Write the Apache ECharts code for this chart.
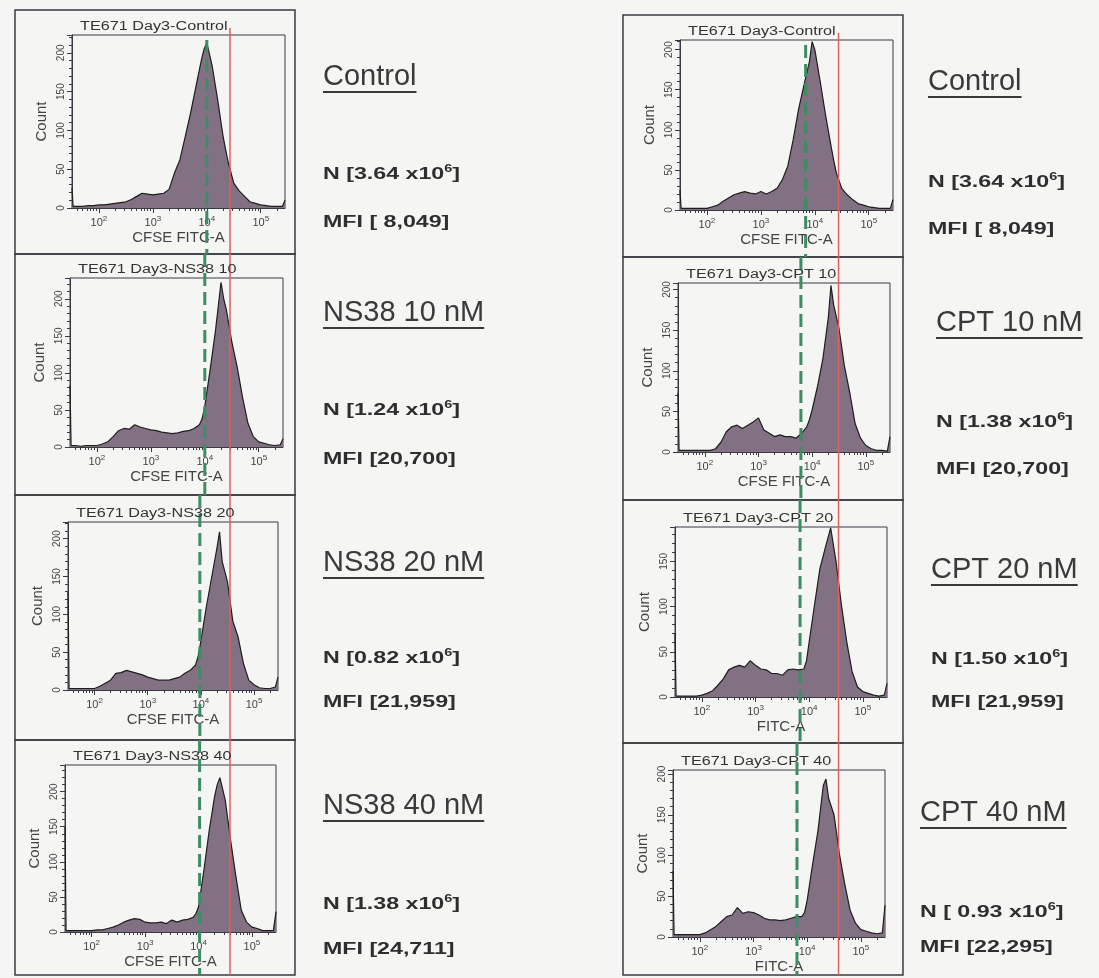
<!DOCTYPE html>
<html>
<head>
<meta charset="utf-8">
<title>TE671 Day3 CFSE</title>
<script src="https://cdn.jsdelivr.net/npm/echarts@6/dist/echarts.min.js"></script>
<style>
html, body { margin: 0; padding: 0; background: #f5f5f3; }
#main { width: 1099px; height: 978px; }
</style>
</head>
<body>
<div id="main"></div>
<script>
// histogram bins, log10 of the CFSE / FITC intensity
var binLog = [1.5, 1.52, 1.6, 1.7, 1.8, 1.9, 2.0, 2.1, 2.2, 2.3, 2.4, 2.5, 2.6, 2.7, 2.8, 2.9, 3.0, 3.1, 3.2, 3.3,
    3.4, 3.5, 3.6, 3.7, 3.8, 3.9, 3.95, 4.0, 4.1, 4.2, 4.3, 4.35, 4.4, 4.5, 4.6, 4.7, 4.8, 4.9, 5.0, 5.1,
    5.2, 5.3, 5.4, 5.43, 5.45];

// counts
var countsControlLeft = [26, 2, 2, 2, 3, 3, 4, 4, 5, 6, 7, 8, 11, 15, 19, 18, 17, 18, 19, 24, 45, 62, 92, 123, 157, 191, 205, 213, 183, 140, 93, 75, 58, 32, 22, 15, 8, 6, 4, 3, 2, 2, 2, 2, 10];
var countsNs38_10 = [83, 2, 2, 1, 2, 2, 2, 4, 7, 14, 22, 25, 24, 30, 27, 25, 23, 22, 20, 19, 18, 19, 21, 22, 25, 30, 38, 55, 105, 158, 222, 200, 185, 142, 108, 67, 32, 14, 7, 5, 3, 2, 3, 3, 11];
var countsNs38_20 = [130, 2, 2, 2, 2, 2, 2, 5, 9, 13, 22, 23, 26, 24, 22, 20, 17, 15, 13, 13, 13, 15, 17, 22, 26, 33, 45, 65, 109, 148, 187, 209, 170, 143, 91, 70, 35, 13, 7, 3, 2, 2, 4, 4, 17];
var countsNs38_40 = [150, 2, 2, 2, 2, 2, 2, 3, 3, 5, 7, 10, 14, 17, 19, 18, 14, 13, 13, 14, 12, 17, 14, 17, 18, 21, 26, 36, 88, 145, 193, 210, 220, 188, 131, 79, 31, 14, 7, 5, 2, 2, 2, 2, 29];
var countsControlRight = [25, 2, 2, 2, 2, 2, 2, 4, 6, 11, 15, 19, 21, 23, 21, 20, 23, 20, 23, 27, 38, 55, 88, 126, 156, 185, 210, 200, 160, 118, 80, 62, 46, 27, 19, 13, 8, 6, 4, 3, 2, 2, 2, 2, 13];
var countsCpt10 = [73, 2, 2, 2, 2, 2, 2, 2, 4, 12, 25, 31, 33, 29, 33, 37, 42, 27, 23, 19, 21, 19, 19, 17, 23, 31, 40, 52, 81, 115, 165, 205, 181, 152, 106, 73, 35, 17, 8, 4, 2, 2, 1, 1, 19];
var countsCpt20 = [70, 1, 1, 1, 1, 1, 2, 4, 7, 13, 20, 30, 33, 35, 33, 40, 35, 31, 30, 26, 26, 24, 30, 31, 30, 31, 40, 61, 102, 142, 165, 176, 187, 150, 102, 61, 28, 11, 6, 4, 2, 1, 2, 2, 15];
var countsCpt40 = [81, 3, 3, 3, 3, 3, 3, 5, 9, 13, 19, 25, 27, 36, 29, 31, 30, 27, 23, 21, 21, 20, 21, 23, 25, 25, 30, 45, 89, 130, 186, 194, 170, 150, 102, 65, 33, 17, 9, 7, 5, 4, 5, 5, 39];

var panelTitles = ["TE671 Day3-Control", "TE671 Day3-NS38 10", "TE671 Day3-NS38 20", "TE671 Day3-NS38 40",
    "TE671 Day3-Control", "TE671 Day3-CPT 10", "TE671 Day3-CPT 20", "TE671 Day3-CPT 40"];
var xAxisNames = ["CFSE FITC-A", "CFSE FITC-A", "CFSE FITC-A", "CFSE FITC-A",
    "CFSE FITC-A", "CFSE FITC-A", "FITC-A", "FITC-A"];
var yMaxes = [223, 228, 222, 238, 212, 208, 188, 205];

var conditionNames = ["Control", "NS38 10 nM", "NS38 20 nM", "NS38 40 nM",
    "Control", "CPT 10 nM", "CPT 20 nM", "CPT 40 nM"];
var nValues = ["3.64", "1.24", "0.82", "1.38", "3.64", "1.38", "1.50", " 0.93"];
var mfiValues = [" 8,049", "20,700", "21,959", "24,711", " 8,049", "20,700", "21,959", "22,295"];

// gates, log10 units
var greenGates = [4.0, 4.0, 3.98, 4.02, 3.83, 3.79, 3.83, 3.81];
var redGates = [4.43, 4.44];

var xMin = 1.5, xMax = 5.45;
var xTickLabels = [2, 3, 4, 5];
var minorMultipliers = [2, 3, 4, 5, 6, 7, 8, 9];

var histograms = [countsControlLeft, countsNs38_10, countsNs38_20, countsNs38_40,
    countsControlRight, countsCpt10, countsCpt20, countsCpt40];

// layout: plot frames [left, top, width, height]
var gridLayout = [
    [72, 35, 213, 173], [70, 278, 213, 169], [68, 522, 210, 168], [65, 765, 211, 167],
    [680, 40, 213, 170], [678, 283, 212, 169], [675, 527, 212, 170], [673, 770, 212, 167]
];
// outer panel boxes [x, y, w, h]
var panelBoxes = [
    [15, 10, 280, 244], [15, 254, 280, 241], [15, 495, 280, 245], [15, 740, 280, 235],
    [623, 15, 280, 242], [623, 257, 280, 243], [623, 500, 280, 243], [623, 743, 280, 232]
];
// text blocks [condX, condY, nX, nY, mfiY]
var labelLayout = [
    [323, 77, 323, 175, 223], [323, 313, 323, 411, 460], [323, 563, 323, 659, 703], [323, 806, 323, 905, 950],
    [928, 82, 928, 183, 230], [936, 323, 936, 423, 470], [931, 570, 931, 660, 703], [920, 813, 920, 913, 948]
];

var frameColor = "#3a3a44";
var textColor = "#3a3a3a";

function minorTickValues() {
    var vals = [];
    for (var p = 1; p <= 5; p++) {
        for (var k = 0; k < minorMultipliers.length; k++) {
            var v = Math.log10(minorMultipliers[k] * Math.pow(10, p));
            if (v > xMin && v < xMax) vals.push(v);
        }
    }
    return vals;
}

function buildOption() {
    var option = {
        backgroundColor: "#f5f5f3",
        animation: false,
        textStyle: {fontFamily: "Liberation Sans"},
        grid: [], xAxis: [], yAxis: [], series: []
    };
    var minors = minorTickValues();
    for (var i = 0; i < 8; i++) {
        var g = gridLayout[i];
        option.grid.push({
            left: g[0], top: g[1], width: g[2], height: g[3],
            show: true, borderColor: frameColor, borderWidth: 1, backgroundColor: "transparent"
        });
        option.xAxis.push({
            type: "value", gridIndex: i, min: xMin, max: xMax, position: "bottom",
            name: xAxisNames[i], nameLocation: "middle", nameGap: 22,
            nameTextStyle: {fontSize: 15, color: "#444"},
            axisLine: {show: true, onZero: false, lineStyle: {color: frameColor, width: 1}},
            axisTick: {show: true, customValues: xTickLabels, length: 5, lineStyle: {color: frameColor}},
            axisLabel: {
                customValues: xTickLabels, margin: 7, color: "#444",
                formatter: function (v) { return "{b|10}{s|" + v + "}"; },
                rich: {
                    b: {fontSize: 11, lineHeight: 15, color: "#444"},
                    s: {fontSize: 8, lineHeight: 9, verticalAlign: "top", color: "#444"}
                }
            },
            splitLine: {show: false}
        });
        option.xAxis.push({
            type: "value", gridIndex: i, min: xMin, max: xMax, position: "bottom",
            axisLine: {show: false},
            axisTick: {show: true, customValues: minors, length: 3, lineStyle: {color: frameColor}},
            axisLabel: {show: false},
            splitLine: {show: false}
        });
        option.yAxis.push({
            type: "value", gridIndex: i, min: 0, max: yMaxes[i], interval: 50,
            name: "Count", nameLocation: "middle", nameGap: 23,
            nameTextStyle: {fontSize: 15, color: "#444"},
            axisLine: {show: true, lineStyle: {color: frameColor, width: 1}},
            axisTick: {show: true, length: 5, lineStyle: {color: frameColor}},
            minorTick: {show: true, splitNumber: 5, length: 3, lineStyle: {color: frameColor}},
            axisLabel: {rotate: 90, fontSize: 10, color: "#444", margin: 6, showMaxLabel: false},
            splitLine: {show: false}
        });
        var counts = histograms[i];
        option.series.push({
            type: "line",
            xAxisIndex: 2 * i,
            yAxisIndex: i,
            data: binLog.map(function (x, k) { return [x, counts[k]]; }),
            symbol: "none",
            silent: true,
            lineStyle: {color: "#1e1e1e", width: 1.2},
            areaStyle: {color: "#817183", opacity: 1}
        });
    }
    return option;
}

var measureCtx = document.createElement("canvas").getContext("2d");
function textWidth(str, font) {
    measureCtx.font = font;
    return measureCtx.measureText(str).width;
}

function buildGraphics(chart) {
    var els = [];
    var i;
    for (i = 0; i < 8; i++) {
        var b = panelBoxes[i];
        els.push({
            type: "rect", z: 1, silent: true,
            shape: {x: b[0], y: b[1], width: b[2], height: b[3]},
            style: {fill: "none", stroke: frameColor, lineWidth: 1.5}
        });
        var g = gridLayout[i];
        els.push({
            type: "text", z: 30, silent: true,
            x: g[0] + 8, y: g[1] - 8, scaleX: 1.35,
            style: {text: panelTitles[i], font: '12px "Liberation Sans"', fill: "#333", verticalAlign: "middle"}
        });

        // green dashed gate
        var gx = chart.convertToPixel({xAxisIndex: 2 * i}, greenGates[i]);
        var y1 = (i % 4 === 0) ? g[1] + 5 : b[1];
        els.push({
            type: "line", z: 20, silent: true,
            shape: {x1: gx, y1: y1, x2: gx, y2: b[1] + b[3]},
            style: {stroke: "#3e8c63", lineWidth: 3, lineDash: [13, 6]}
        });

        // condition label, underlined
        var L = labelLayout[i];
        var condFont = '29px "Liberation Sans"';
        var w = textWidth(conditionNames[i], condFont);
        els.push({
            type: "text", z: 30, silent: true, x: L[0], y: L[1],
            style: {text: conditionNames[i], font: condFont, fill: textColor, verticalAlign: "middle"}
        });
        els.push({
            type: "line", z: 30, silent: true,
            shape: {x1: L[0], y1: L[1] + 15, x2: L[0] + w, y2: L[1] + 15},
            style: {stroke: textColor, lineWidth: 2}
        });
        var rich = {
            b: {font: 'bold 16px "Liberation Sans"', fill: "#2e2e2e", lineHeight: 22},
            s: {font: 'bold 10px "Liberation Sans"', fill: "#2e2e2e", lineHeight: 10, verticalAlign: "top"}
        };
        els.push({
            type: "text", z: 30, silent: true, x: L[2], y: L[3], scaleX: 1.45,
            style: {text: "{b|N [" + nValues[i] + " x10}{s|6}{b|]}", rich: rich, verticalAlign: "middle"}
        });
        els.push({
            type: "text", z: 30, silent: true, x: L[2], y: L[4], scaleX: 1.45,
            style: {text: "{b|MFI [" + mfiValues[i] + "]}", rich: rich, verticalAlign: "middle"}
        });
    }
    // red marker, one per column
    for (i = 0; i < 2; i++) {
        var first = gridLayout[i * 4];
        var rx = chart.convertToPixel({xAxisIndex: 8 * i}, redGates[i]);
        els.push({
            type: "line", z: 21, silent: true,
            shape: {x1: rx, y1: first[1] - 7, x2: rx, y2: 975},
            style: {stroke: "#e0605c", lineWidth: 1.5}
        });
    }
    return els;
}

var chart = echarts.init(document.getElementById("main"));
chart.setOption(buildOption());
chart.setOption({graphic: {elements: buildGraphics(chart)}});
</script>
</body>
</html>
